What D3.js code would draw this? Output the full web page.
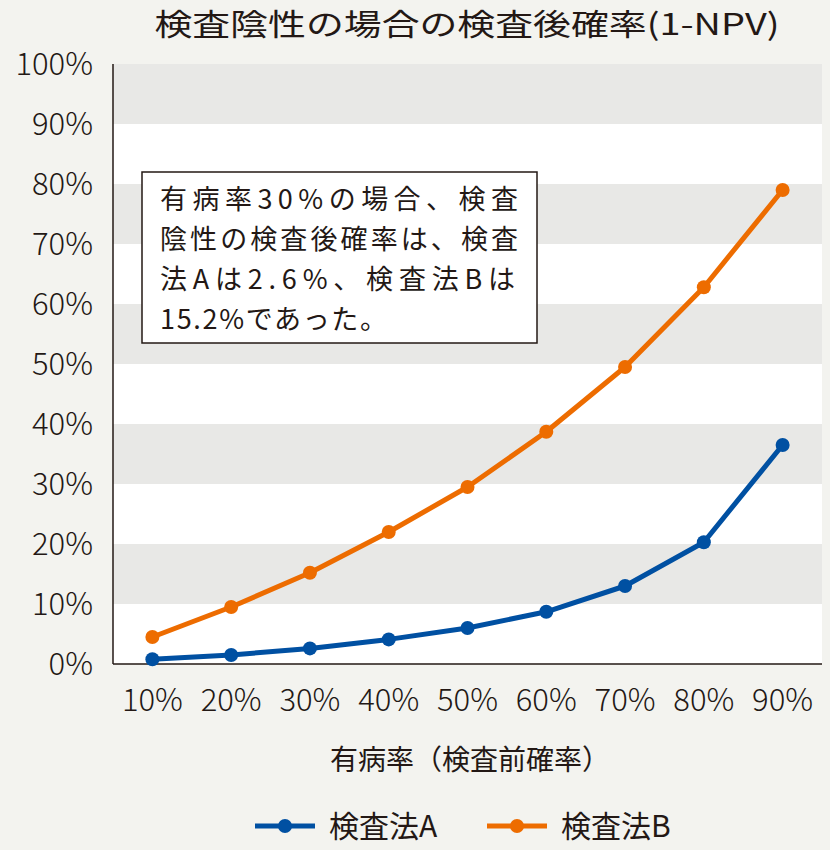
<!DOCTYPE html>
<html>
<head>
<meta charset="utf-8">
<title>検査陰性の場合の検査後確率</title>
<style>
    body {
        margin: 0;
        padding: 0;
        background: #f3f3ef;
        font-family: "Noto Sans CJK JP", "Noto Sans", sans-serif;
    }
    svg {
        display: block;
    }
    .tick-label {
        fill: #231815;
        font-size: 31px;
        font-weight: 300;
    }
</style>
</head>
<body>
<svg width="830" height="850"></svg>
<script src="https://d3js.org/d3.v7.min.js"></script>
<script>
// dati
var prevalenze = ["10%", "20%", "30%", "40%", "50%", "60%", "70%", "80%", "90%"];
var metodoA = [0.8, 1.5, 2.6, 4.1, 6.0, 8.7, 13.0, 20.3, 36.5];
var metodoB = [4.5, 9.5, 15.2, 22.0, 29.5, 38.7, 49.5, 62.8, 79.0];
var yTicks = [0, 10, 20, 30, 40, 50, 60, 70, 80, 90, 100];
var fasceGrigie = [10, 30, 50, 70, 90];
var nomiSerie = ["検査法A", "検査法B"];
var titolo = "検査陰性の場合の検査後確率(1-NPV)";
var titoloX = "有病率（検査前確率）";
var nota = ["有病率30%の場合、検査", "陰性の検査後確率は、検査", "法Aは2.6%、検査法Bは", "15.2%であった。"];

var colours = { "検査法A": "#0050a2", "検査法B": "#ed6c00" };
var ink = "#231815";

var plotLeft = 113, plotRight = 822, plotTop = 64, plotBottom = 664;

var svg = d3.select("svg");

var x = d3.scalePoint().domain(prevalenze).range([plotLeft, plotRight]).padding(0.5);
var y = d3.scaleLinear().domain([0, 100]).range([plotBottom, plotTop]);

// sfondo area grafico
svg.append("rect")
    .attr("x", plotLeft).attr("y", plotTop)
    .attr("width", plotRight - plotLeft).attr("height", plotBottom - plotTop)
    .attr("fill", "#ffffff");

svg.selectAll(".fascia")
    .data(fasceGrigie)
    .enter()
    .append("rect")
    .attr("class", "fascia")
    .attr("x", plotLeft)
    .attr("y", function(d) { return y(d + 10); })
    .attr("width", plotRight - plotLeft)
    .attr("height", function(d) { return y(d) - y(d + 10); })
    .attr("fill", "#e8e8e6");

// assi
svg.append("line")
    .attr("x1", plotLeft).attr("x2", plotLeft)
    .attr("y1", plotTop).attr("y2", plotBottom)
    .attr("stroke", ink).attr("stroke-width", 1.5);
svg.append("line")
    .attr("x1", plotLeft).attr("x2", plotRight)
    .attr("y1", plotBottom).attr("y2", plotBottom)
    .attr("stroke", ink).attr("stroke-width", 1.5);

svg.selectAll(".ylab")
    .data(yTicks)
    .enter()
    .append("text")
    .attr("class", "tick-label ylab")
    .attr("x", 93)
    .attr("y", function(d) { return y(d); })
    .attr("dy", "0.36em")
    .attr("text-anchor", "end")
    .text(function(d) { return d + "%"; });

svg.selectAll(".xlab")
    .data(prevalenze)
    .enter()
    .append("text")
    .attr("class", "tick-label xlab")
    .attr("x", function(d) { return x(d); })
    .attr("y", 700)
    .attr("dy", "0.36em")
    .attr("text-anchor", "middle")
    .text(function(d) { return d; });

svg.append("text")
    .attr("x", 470).attr("y", 760)
    .attr("dy", "0.36em")
    .attr("text-anchor", "middle")
    .attr("fill", ink)
    .attr("font-size", 28)
    .text(titoloX);

svg.append("text")
    .attr("x", 467).attr("y", 24)
    .attr("dy", "0.36em")
    .attr("text-anchor", "middle")
    .attr("fill", ink)
    .attr("font-size", 30)
    .attr("textLength", 625)
    .attr("lengthAdjust", "spacingAndGlyphs")
    .text(titolo);

// riquadro nota
svg.append("rect")
    .attr("x", 142).attr("y", 172)
    .attr("width", 395).attr("height", 171)
    .attr("fill", "#ffffff")
    .attr("stroke", ink).attr("stroke-width", 1.5);

var larghezzeNota = [358, 358, 355, 227];
svg.selectAll(".nota")
    .data(nota)
    .enter()
    .append("text")
    .attr("class", "nota")
    .attr("x", 160)
    .attr("y", function(d, i) { return 199 + i * 40; })
    .attr("dy", "0.36em")
    .attr("fill", ink)
    .attr("font-size", 27)
    .attr("textLength", function(d, i) { return larghezzeNota[i]; })
    .attr("lengthAdjust", "spacing")
    .text(function(d) { return d; });

// serie
var serie = [
    { nome: nomiSerie[0], valori: metodoA },
    { nome: nomiSerie[1], valori: metodoB }
];

var linea = d3.line()
    .x(function(d, i) { return x(prevalenze[i]); })
    .y(function(d) { return y(d); });

var gruppi = svg.selectAll(".serie")
    .data(serie)
    .enter()
    .append("g")
    .attr("class", "serie");

gruppi.append("path")
    .attr("d", function(d) { return linea(d.valori); })
    .attr("fill", "none")
    .attr("stroke", function(d) { return colours[d.nome]; })
    .attr("stroke-width", 5)
    .attr("stroke-linejoin", "round");

gruppi.each(function(s) {
    d3.select(this)
        .selectAll("circle")
        .data(s.valori)
        .enter()
        .append("circle")
        .attr("cx", function(d, i) { return x(prevalenze[i]); })
        .attr("cy", function(d) { return y(d); })
        .attr("r", 7)
        .attr("fill", colours[s.nome]);
});

// legenda
var legendaX = [255, 487];
var legenda = svg.selectAll(".legenda")
    .data(nomiSerie)
    .enter()
    .append("g")
    .attr("class", "legenda")
    .attr("transform", function(d, i) { return "translate(" + legendaX[i] + ",826)"; });

legenda.append("line")
    .attr("x1", 0).attr("x2", 60)
    .attr("stroke", function(d) { return colours[d]; })
    .attr("stroke-width", 5);
legenda.append("circle")
    .attr("cx", 30).attr("r", 7)
    .attr("fill", function(d) { return colours[d]; });
legenda.append("text")
    .attr("x", 74)
    .attr("dy", "0.36em")
    .attr("fill", ink)
    .attr("font-size", 30)
    .text(function(d) { return d; });
</script>
</body>
</html>
